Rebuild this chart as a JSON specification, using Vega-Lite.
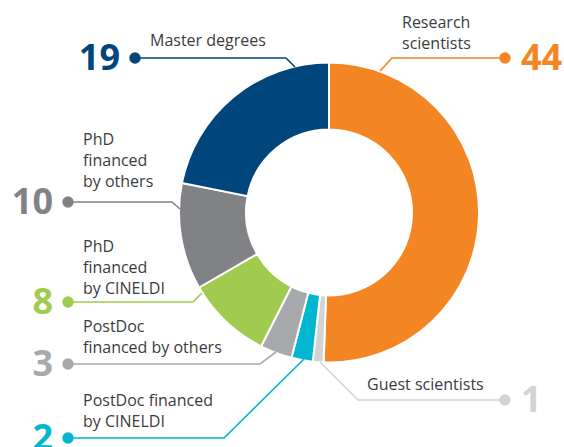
{
  "$schema": "https://vega.github.io/schema/vega-lite/v6.json",
  "width": 564,
  "height": 447,
  "padding": 0,
  "autosize": {"type": "none"},
  "background": "white",
  "config": {"view": {"stroke": null}},
  "datasets": {
    "slices": [
      {"cat": "Research scientists", "value": 44, "ord": 1, "side": "right", "px": 505, "py": 58, "tx": 402, "ty": 28, "label": "Research\nscientists"},
      {"cat": "Guest scientists", "value": 1, "ord": 2, "side": "right", "px": 505, "py": 400, "tx": 367, "ty": 390, "label": "Guest scientists"},
      {"cat": "PostDoc financed by CINELDI", "value": 2, "ord": 3, "side": "left", "px": 68, "py": 438, "tx": 83, "ty": 406, "label": "PostDoc financed\nby CINELDI"},
      {"cat": "PostDoc financed by others", "value": 3, "ord": 4, "side": "left", "px": 68, "py": 364, "tx": 83, "ty": 332, "label": "PostDoc\nfinanced by others"},
      {"cat": "PhD financed by CINELDI", "value": 8, "ord": 5, "side": "left", "px": 68, "py": 302, "tx": 83, "ty": 252, "label": "PhD\nfinanced\nby CINELDI"},
      {"cat": "PhD financed by others", "value": 10, "ord": 6, "side": "left", "px": 68, "py": 202, "tx": 83, "ty": 145, "label": "PhD\nfinanced\nby others"},
      {"cat": "Master degrees", "value": 19, "ord": 7, "side": "left", "px": 135, "py": 58, "tx": 150, "ty": 46, "label": "Master degrees"}
    ],
    "leaders": [
      {"cat": "Master degrees", "i": 1, "x": 135, "y": 58},
      {"cat": "Master degrees", "i": 2, "x": 286, "y": 58},
      {"cat": "Master degrees", "i": 3, "x": 295, "y": 67},
      {"cat": "Research scientists", "i": 1, "x": 505, "y": 58},
      {"cat": "Research scientists", "i": 2, "x": 392, "y": 58},
      {"cat": "Research scientists", "i": 3, "x": 380, "y": 71},
      {"cat": "PhD financed by others", "i": 1, "x": 68, "y": 202},
      {"cat": "PhD financed by others", "i": 2, "x": 172, "y": 202},
      {"cat": "PhD financed by others", "i": 3, "x": 180, "y": 209},
      {"cat": "PhD financed by CINELDI", "i": 1, "x": 68, "y": 302},
      {"cat": "PhD financed by CINELDI", "i": 2, "x": 193, "y": 302},
      {"cat": "PhD financed by CINELDI", "i": 3, "x": 202, "y": 293},
      {"cat": "PostDoc financed by others", "i": 1, "x": 68, "y": 364},
      {"cat": "PostDoc financed by others", "i": 2, "x": 260, "y": 364},
      {"cat": "PostDoc financed by others", "i": 3, "x": 276, "y": 352},
      {"cat": "PostDoc financed by CINELDI", "i": 1, "x": 68, "y": 438},
      {"cat": "PostDoc financed by CINELDI", "i": 2, "x": 224, "y": 438},
      {"cat": "PostDoc financed by CINELDI", "i": 3, "x": 304, "y": 359},
      {"cat": "Guest scientists", "i": 1, "x": 505, "y": 400},
      {"cat": "Guest scientists", "i": 2, "x": 358, "y": 400},
      {"cat": "Guest scientists", "i": 3, "x": 320, "y": 362}
    ]
  },
  "layer": [
    {
      "data": {"name": "slices"},
      "mark": {"type": "arc", "radius": 150, "radius2": 83, "stroke": "white", "strokeWidth": 2},
      "encoding": {
        "x": {"datum": 329, "type": "quantitative", "scale": {"domain": [0, 564], "nice": false, "zero": false}, "axis": null},
        "y": {"datum": 212.5, "type": "quantitative", "scale": {"domain": [0, 447], "nice": false, "zero": false, "reverse": true}, "axis": null},
        "theta": {"field": "value", "type": "quantitative", "stack": true},
        "order": {"field": "ord", "type": "quantitative"},
        "color": {"field": "cat", "type": "nominal", "legend": null,
          "scale": {
            "domain": ["Research scientists", "Guest scientists", "PostDoc financed by CINELDI", "PostDoc financed by others", "PhD financed by CINELDI", "PhD financed by others", "Master degrees"],
            "range": ["#F48523", "#D1D3D4", "#00B7CF", "#A7A9AC", "#A1CB4F", "#808285", "#00457B"]
          }}
      }
    },
    {
      "data": {"name": "leaders"},
      "mark": {"type": "line", "strokeWidth": 1.6},
      "encoding": {
        "x": {"field": "x", "type": "quantitative"},
        "y": {"field": "y", "type": "quantitative"},
        "order": {"field": "i", "type": "quantitative"},
        "detail": {"field": "cat"},
        "color": {"field": "cat", "type": "nominal", "legend": null}
      }
    },
    {
      "data": {"name": "slices"},
      "mark": {"type": "circle", "size": 130, "opacity": 1},
      "encoding": {
        "x": {"field": "px", "type": "quantitative"},
        "y": {"field": "py", "type": "quantitative"},
        "color": {"field": "cat", "type": "nominal", "legend": null}
      }
    },
    {
      "data": {"name": "slices"},
      "transform": [{"filter": "datum.side == 'left'"}],
      "mark": {"type": "text", "align": "right", "baseline": "alphabetic", "dx": -15, "dy": 11.5, "font": "Open Sans", "fontWeight": "bold", "fontSize": 36},
      "encoding": {
        "x": {"field": "px", "type": "quantitative"},
        "y": {"field": "py", "type": "quantitative"},
        "text": {"field": "value", "type": "quantitative"},
        "color": {"field": "cat", "type": "nominal", "legend": null}
      }
    },
    {
      "data": {"name": "slices"},
      "transform": [{"filter": "datum.side == 'right'"}],
      "mark": {"type": "text", "align": "left", "baseline": "alphabetic", "dx": 16, "dy": 11.5, "font": "Open Sans", "fontWeight": "bold", "fontSize": 36},
      "encoding": {
        "x": {"field": "px", "type": "quantitative"},
        "y": {"field": "py", "type": "quantitative"},
        "text": {"field": "value", "type": "quantitative"},
        "color": {"field": "cat", "type": "nominal", "legend": null}
      }
    },
    {
      "data": {"name": "slices"},
      "mark": {"type": "text", "align": "left", "baseline": "alphabetic", "lineBreak": "\n", "lineHeight": 21, "font": "Open Sans", "fontSize": 16, "color": "#3c3c3c"},
      "encoding": {
        "x": {"field": "tx", "type": "quantitative"},
        "y": {"field": "ty", "type": "quantitative"},
        "text": {"field": "label", "type": "nominal"}
      }
    }
  ]
}
